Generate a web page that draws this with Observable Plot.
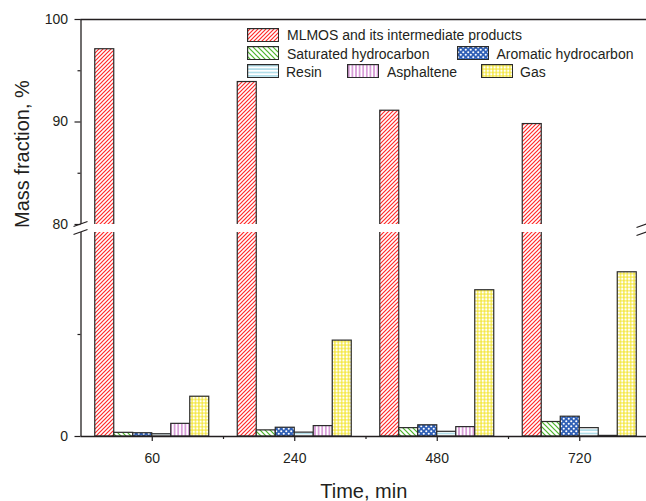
<!DOCTYPE html>
<html><head><meta charset="utf-8">
<script src="https://cdn.jsdelivr.net/npm/d3@7"></script>
<script src="https://cdn.jsdelivr.net/npm/@observablehq/plot@0.6"></script>
<style>
body{margin:0;background:#fff;}
#wrap{position:relative;width:646px;height:501px;overflow:hidden;font-family:"Liberation Sans",Arial,sans-serif;color:#231f20;}
.sw{position:absolute;width:32px;height:14px;}
.lt{position:absolute;font-size:14px;line-height:14px;white-space:nowrap;}
</style></head><body>
<div id="wrap"><div id="chart"></div></div>
<script>
const times = ["60", "240", "480", "720"];
const series = ["MLMOS and its intermediate products", "Saturated hydrocarbon", "Aromatic hydrocarbon", "Resin", "Asphaltene", "Gas"];
const mlmos = [97.1, 93.9, 91.1, 89.8];
const saturated = [0.18, 0.30, 0.41, 0.71];
const aromatic = [0.16, 0.43, 0.55, 0.97];
const resin = [0.11, 0.19, 0.23, 0.41];
const asphaltene = [0.62, 0.51, 0.46, 0.03];
const gas = [1.95, 4.70, 7.17, 8.05];
const yTicks = [0, 80, 90, 100];
const yMinor = [5, 85, 95];
const xMinor = [0.5, 1.5, 2.5, 3.5];

const patternDefs = (p) => `
<pattern id="${p}0" patternUnits="userSpaceOnUse" width="4" height="4">
<rect width="4" height="4" fill="#ffffff"/>
<path d="M-1,1 L1,-1 M0,4 L4,0 M3,5 L5,3" fill="none" style="stroke:#ff2a2a;stroke-width:1.2px"/>
</pattern>
<pattern id="${p}1" patternUnits="userSpaceOnUse" width="5" height="5">
<rect width="5" height="5" fill="#ffffff"/>
<path d="M0,0 L5,5 M-1,4 L1,6 M4,-1 L6,1" fill="none" style="stroke:#4cb52a;stroke-width:1.2px"/>
</pattern>
<pattern id="${p}2" patternUnits="userSpaceOnUse" width="5" height="5">
<rect width="5" height="5" fill="#2f5fb5"/>
<circle cx="1.25" cy="1.25" r="1.05" fill="#ffffff"/>
<circle cx="3.75" cy="3.75" r="1.05" fill="#ffffff"/>
</pattern>
<pattern id="${p}3" patternUnits="userSpaceOnUse" width="4" height="3.4">
<rect width="4" height="3.4" fill="#ffffff"/>
<path d="M0,1.7 H4" fill="none" style="stroke:#7cc8da;stroke-width:1px"/>
</pattern>
<pattern id="${p}4" patternUnits="userSpaceOnUse" width="3.6" height="4">
<rect width="3.6" height="4" fill="#ffffff"/>
<path d="M1.8,0 V4" fill="none" style="stroke:#c060c0;stroke-width:1.1px"/>
</pattern>
<pattern id="${p}5" patternUnits="userSpaceOnUse" width="3.4" height="3.4">
<rect width="3.4" height="3.4" fill="#ffffff"/>
<path d="M1.7,0 V3.4 M0,1.7 H3.4" fill="none" style="stroke:#f2e21a;stroke-width:1px"/>
</pattern>`;

const seriesValues = [mlmos, saturated, aromatic, resin, asphaltene, gas];
const rows = [];
times.forEach((t, i) => seriesValues.forEach((vals, j) => rows.push({i, j, t, s: series[j], v: vals[i]})));
const groupW = 0.8, bw = groupW / series.length;
const ink = "#231f20";
const font = '"Liberation Sans", Arial, sans-serif';

const plot = Plot.plot({
  width: 646, height: 501,
  marginLeft: 80.5, marginRight: 0, marginTop: 19, marginBottom: 65,
  style: {fontFamily: font, fontSize: "14px", color: ink, background: "white", overflow: "visible"},
  x: {type: "linear", domain: [-0.5, 3.5], range: [80.5, 650.5]},
  y: {type: "linear", domain: [0, 10, 80, 100], range: [436, 232, 224, 19]},
  marks: [
    ...series.map((s, j) => Plot.rect(rows.filter(r => r.j === j), {
      x1: r => r.i - groupW / 2 + r.j * bw,
      x2: r => r.i - groupW / 2 + (r.j + 1) * bw,
      y1: 0, y2: "v",
      fill: `url(#pp${j})`, stroke: "#2b2b2b", strokeWidth: 1.2
    })),
    Plot.rect([0], {x1: -0.5, x2: 3.5, y1: 10, y2: 80, fill: "white"}),
    Plot.ruleX([-0.5], {y1: 0, y2: 10, stroke: ink, strokeWidth: 1.3}),
    Plot.ruleX([-0.5], {y1: 80, y2: 100, stroke: ink, strokeWidth: 1.3}),
    Plot.ruleY([100], {x1: -0.5, x2: 3.5, stroke: ink, strokeWidth: 1.3}),
    Plot.ruleY([0], {x1: -0.5, x2: 3.5, stroke: ink, strokeWidth: 1.6}),
    Plot.axisY(yTicks, {anchor: "left", tickSize: 6, tickPadding: 7, tickFormat: d => String(d), label: null, fontSize: 14, strokeWidth: 1.2}),
    Plot.axisY(yMinor, {anchor: "left", tickSize: 3, tickFormat: () => "", label: null, strokeWidth: 1.2}),
    Plot.axisX([0, 1, 2, 3], {anchor: "bottom", tickSize: 5, tickPadding: 12, tickFormat: i => times[i], label: null, fontSize: 14, strokeWidth: 1.2}),
    Plot.axisX(xMinor, {anchor: "bottom", tickSize: 3, tickFormat: () => "", label: null, strokeWidth: 1.2}),
    Plot.text(["Mass fraction, %"], {frameAnchor: "left", rotate: -90, dx: -58, fontSize: 20, fill: ink}),
    Plot.text(["Time, min"], {frameAnchor: "bottom", dy: 61, fontSize: 20, fill: ink})
  ]
});
// pattern definitions live inside the plot's own SVG
const defs = document.createElementNS("http://www.w3.org/2000/svg", "defs");
defs.innerHTML = patternDefs("pp");
plot.insertBefore(defs, plot.firstChild);
document.getElementById("chart").appendChild(plot);

// axis break marks
const sx = plot.scale("x"), sy = plot.scale("y");
const svg = d3.select(plot);
const xl = sx.apply(-0.5), xr = sx.apply(3.5) - 7;
[[xl, sy.apply(80)], [xl, sy.apply(10)], [xr, sy.apply(80) + 1], [xr, sy.apply(10) + 1]].forEach(([cx, cy]) => {
  svg.append("line").attr("x1", cx - 7).attr("y1", cy + 2.5).attr("x2", cx + 7).attr("y2", cy - 2.5)
    .attr("stroke", ink).attr("stroke-width", 1.3);
});

// legend
const wrap = document.getElementById("wrap");
const legendPos = [
  {sx: 247, sy: 27.5, tx: 287},
  {sx: 247, sy: 46, tx: 287},
  {sx: 456.5, sy: 46, tx: 496.5},
  {sx: 247, sy: 64, tx: 286},
  {sx: 346.5, sy: 64, tx: 387},
  {sx: 481, sy: 64, tx: 520}
];
series.forEach((s, j) => {
  const p = legendPos[j];
  const sw = document.createElementNS("http://www.w3.org/2000/svg", "svg");
  sw.setAttribute("class", "sw");
  sw.setAttribute("width", 33); sw.setAttribute("height", 15);
  sw.style.left = p.sx + "px"; sw.style.top = p.sy + "px";
  sw.innerHTML = `<defs>${patternDefs("lg" + j + "_")}</defs><rect x="0.6" y="0.6" width="31" height="13" fill="url(#lg${j}_${j})" stroke="#2b2b2b" stroke-width="1.2"/>`;
  wrap.appendChild(sw);
  const t = document.createElement("div");
  t.className = "lt"; t.textContent = s;
  t.style.left = p.tx + "px"; t.style.top = (p.sy + 0.5) + "px";
  wrap.appendChild(t);
});
</script>
</body></html>
